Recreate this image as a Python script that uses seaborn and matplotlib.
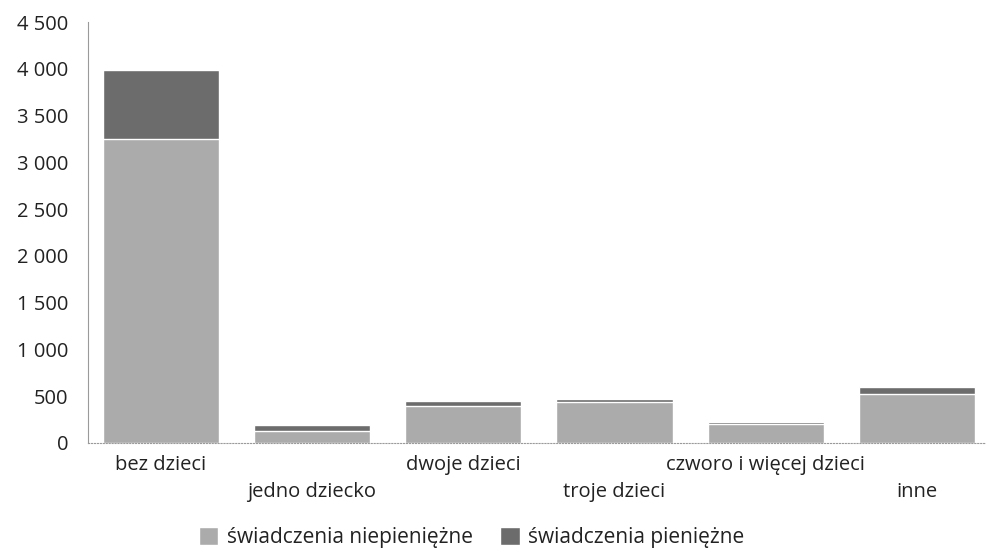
import matplotlib

matplotlib.use("Agg")
import matplotlib.pyplot as plt
import pandas as pd
import seaborn as sns
from matplotlib.patches import Patch
from matplotlib.ticker import FuncFormatter

# values
categories = [
    "bez dzieci",
    "jedno dziecko",
    "dwoje dzieci",
    "troje dzieci",
    "czworo i więcej dzieci",
    "inne",
]
niepieniezne = [3250, 125, 390, 440, 200, 520]
pieniezne = [740, 70, 60, 35, 20, 80]
series_names = ["świadczenia niepieniężne", "świadczenia pieniężne"]
y_ticks = [0, 500, 1000, 1500, 2000, 2500, 3000, 3500, 4000, 4500]

LIGHT = "#ababab"
DARK = "#6c6c6c"
TEXT = "#222222"

sns.set_theme(style="white")
plt.rcParams["font.family"] = ["Open Sans", "DejaVu Sans"]

df = pd.DataFrame(
    {"kategoria": categories, "niepieniezne": niepieniezne, "pieniezne": pieniezne}
)
df["razem"] = df["niepieniezne"] + df["pieniezne"]

fig = plt.figure(figsize=(9.86, 5.53), dpi=100)
ax = fig.add_axes([0.089, 0.199, 0.91, 0.761])

# stacked: total in dark first, lower part in light on top of it
sns.barplot(data=df, x="kategoria", y="razem", color=DARK, width=0.77,
            saturation=1, ax=ax)
sns.barplot(data=df, x="kategoria", y="niepieniezne", color=LIGHT, width=0.77,
            saturation=1, ax=ax)

ax.set_xlim(-0.483, 5.45)
ax.set_ylim(0, 4500)
ax.set_yticks(y_ticks)
ax.yaxis.set_major_formatter(FuncFormatter(lambda v, _: f"{int(v):,}".replace(",", " ")))
ax.set_xlabel("")
ax.set_ylabel("")

ax.tick_params(axis="both", length=0, labelsize=14.5, colors=TEXT)
ax.tick_params(axis="y", pad=14)
ax.tick_params(axis="x", pad=9)

# staggered category labels
for i, lbl in enumerate(ax.get_xticklabels()):
    if i % 2:
        lbl.set_y(-0.062)

for side in ["top", "right"]:
    ax.spines[side].set_visible(False)
ax.spines["left"].set_color("#9a9a9a")
ax.spines["left"].set_linewidth(0.8)
ax.spines["bottom"].set_color("#9a9a9a")
ax.spines["bottom"].set_linewidth(0.8)
ax.spines["bottom"].set_linestyle(":")

handles = [Patch(facecolor=LIGHT, label=series_names[0]),
           Patch(facecolor=DARK, label=series_names[1])]
fig.legend(handles=handles, loc="center", bbox_to_anchor=(0.478, 0.028), ncol=2,
           frameon=False, fontsize=15, handlelength=0.95, handleheight=0.95,
           handletextpad=0.4, columnspacing=1.3, labelcolor=TEXT)

fig.savefig("out.png", dpi=100)
